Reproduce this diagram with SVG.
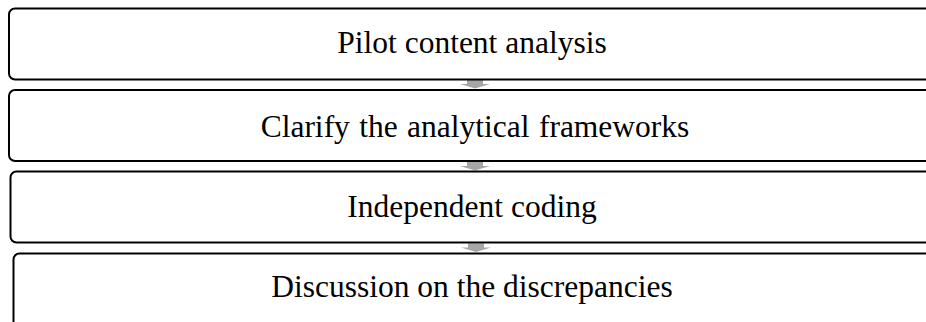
<svg xmlns="http://www.w3.org/2000/svg" width="926" height="322" viewBox="0 0 926 322">
<style>
.box{fill:#fff;stroke:#000;stroke-width:2}
.lbl{font-family:"Liberation Serif","Times New Roman",serif;font-size:31.5px;fill:#000;text-anchor:middle}
.arr{fill:#a6a6a6}
</style>
<rect width="926" height="322" fill="#fff"/>
<g id="connectors">
<path class="arr" d="M467,80 H483 V84 H490 L475,88.5 L460,84 H467 Z"/>
<path class="arr" d="M467,162 H483 V166 H490 L475,170.5 L460,166 H467 Z"/>
<path class="arr" d="M468,243.5 H484 V247.5 H491 L476,252 L461,247.5 H468 Z"/>
</g>
<g id="n1">
<rect class="box" x="9" y="8.5" width="940" height="71" rx="6"/>
<text class="lbl" x="472" y="53">Pilot content analysis</text>
</g>
<g id="n2">
<rect class="box" x="9" y="90" width="940" height="71" rx="6"/>
<text class="lbl" x="475" y="137" word-spacing="1.5">Clarify the analytical frameworks</text>
</g>
<g id="n3">
<rect class="box" x="10.5" y="171.5" width="940" height="71" rx="6"/>
<text class="lbl" x="472" y="217">Independent coding</text>
</g>
<g id="n4">
<rect class="box" x="13.5" y="253.5" width="940" height="80" rx="6"/>
<text class="lbl" x="472" y="297">Discussion on the discrepancies</text>
</g>
</svg>
